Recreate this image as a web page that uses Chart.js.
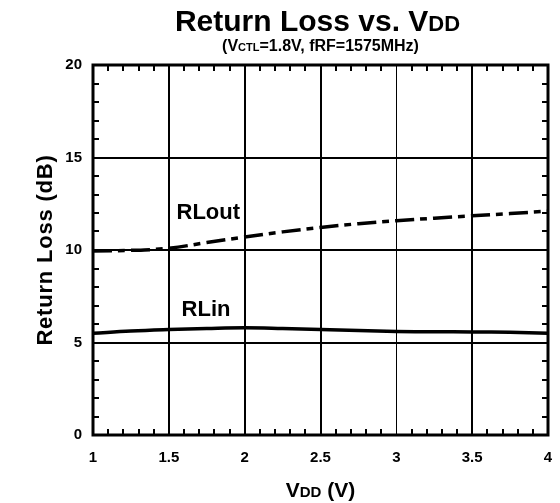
<!DOCTYPE html>
<html>
<head>
<meta charset="utf-8">
<script src="https://cdn.jsdelivr.net/npm/chart.js@4/dist/chart.umd.min.js"></script>
<style>
  html, body { margin: 0; padding: 0; background: #fff; }
  #wrap { width: 560px; height: 503px; }
</style>
</head>
<body>
<div id="wrap"><canvas id="chart" width="560" height="503"></canvas></div>
<script>
const vdd = [1, 1.25, 1.5, 1.75, 2, 2.25, 2.5, 2.75, 3, 3.25, 3.5, 3.75, 4];
const rlOut = [9.95, 9.98, 10.1, 10.4, 10.7, 10.98, 11.22, 11.42, 11.58, 11.72, 11.85, 11.97, 12.1];
const rlIn = [5.5, 5.62, 5.7, 5.76, 5.8, 5.76, 5.7, 5.65, 5.6, 5.58, 5.57, 5.55, 5.5];
const xTicks = [1, 1.5, 2, 2.5, 3, 3.5, 4];
const yTicks = [0, 5, 10, 15, 20];

const FONT = '"Liberation Sans", Arial, sans-serif';

// draw a row of text pieces with different sizes, centred on cx
function drawPieces(ctx, pieces, cx, y) {
  let total = 0;
  pieces.forEach(p => {
    ctx.font = 'bold ' + p[1] + 'px ' + FONT;
    total += ctx.measureText(p[0]).width;
  });
  let x = cx - total / 2;
  pieces.forEach(p => {
    ctx.font = 'bold ' + p[1] + 'px ' + FONT;
    ctx.fillText(p[0], x, y);
    x += ctx.measureText(p[0]).width;
  });
}

const decor = {
  id: 'decor',
  beforeDatasetsDraw(chart) {
    const { ctx, chartArea: a, scales: { x, y } } = chart;
    ctx.save();
    ctx.strokeStyle = '#000';
    ctx.lineWidth = 2;
    ctx.beginPath();
    // minor ticks, inside, on all four sides
    for (let i = 1; i < 30; i++) {
      if (i % 5 === 0) continue;
      const px = Math.round(x.getPixelForValue(1 + i * 0.1));
      ctx.moveTo(px, a.bottom); ctx.lineTo(px, a.bottom - 6);
      ctx.moveTo(px, a.top); ctx.lineTo(px, a.top + 6);
    }
    for (let i = 1; i < 20; i++) {
      if (i % 5 === 0) continue;
      const py = Math.round(y.getPixelForValue(i));
      ctx.moveTo(a.left, py); ctx.lineTo(a.left + 6, py);
      ctx.moveTo(a.right, py); ctx.lineTo(a.right - 6, py);
    }
    ctx.stroke();
    ctx.lineWidth = 3;
    ctx.strokeRect(a.left, a.top, a.right - a.left, a.bottom - a.top);
    ctx.restore();
  },
  afterDraw(chart) {
    const { ctx, chartArea: a, scales: { x, y } } = chart;
    const cx = (a.left + a.right) / 2;
    ctx.save();
    ctx.fillStyle = '#000';
    ctx.textBaseline = 'alphabetic';
    drawPieces(ctx, [['Return Loss vs. V', 30], ['DD', 22]], cx - 3, 31);
    drawPieces(ctx, [['(V', 16], ['CTL', 11], ['=1.8V, fRF=1575MHz)', 16]], cx, 51);
    drawPieces(ctx, [['V', 21], ['DD', 15], [' (V)', 21]], cx, 497);

    ctx.font = 'bold 22px ' + FONT;
    ctx.textAlign = 'center';
    ctx.fillText('RLout', x.getPixelForValue(1.76), y.getPixelForValue(11.68));
    ctx.fillText('RLin', x.getPixelForValue(1.745), y.getPixelForValue(6.43));

    ctx.translate(52, (a.top + a.bottom) / 2);
    ctx.rotate(-Math.PI / 2);
    ctx.font = 'bold 22px ' + FONT;
    ctx.letterSpacing = '0.8px';
    ctx.fillText('Return Loss (dB)', 0, 0);
    ctx.restore();
  }
};

new Chart(document.getElementById('chart'), {
  type: 'line',
  data: {
    datasets: [
      {
        label: 'RLout',
        data: vdd.map((v, i) => ({ x: v, y: rlOut[i] })),
        borderColor: '#000',
        borderWidth: 3.5,
        borderDash: [19, 6, 7, 6],
        pointRadius: 0,
        tension: 0.4
      },
      {
        label: 'RLin',
        data: vdd.map((v, i) => ({ x: v, y: rlIn[i] })),
        borderColor: '#000',
        borderWidth: 3.5,
        pointRadius: 0,
        tension: 0.4
      }
    ]
  },
  options: {
    responsive: false,
    animation: false,
    layout: { padding: { top: 65, right: 12, left: 0, bottom: 0 } },
    plugins: {
      legend: { display: false },
      title: { display: false },
      tooltip: { enabled: false }
    },
    scales: {
      x: {
        type: 'linear',
        min: 1,
        max: 4,
        afterBuildTicks: s => { s.ticks = xTicks.map(v => ({ value: v })); },
        afterFit: s => { s.height = 68; s.paddingRight = 0; },
        ticks: {
          color: '#000',
          padding: 14,
          maxRotation: 0,
          font: { family: FONT, size: 15, weight: 'bold' },
          callback: v => String(v)
        },
        grid: {
          color: '#000',
          lineWidth: c => (c.tick && c.tick.value === 3 ? 1 : 2),
          drawTicks: false
        },
        border: { display: false }
      },
      y: {
        min: 0,
        max: 20,
        afterBuildTicks: s => { s.ticks = yTicks.map(v => ({ value: v })); },
        afterFit: s => { s.width = 93; },
        ticks: {
          color: '#000',
          padding: 11,
          font: { family: FONT, size: 15, weight: 'bold' }
        },
        grid: {
          color: '#000',
          lineWidth: 2,
          drawTicks: false
        },
        border: { display: false }
      }
    }
  },
  plugins: [decor]
});
</script>
</body>
</html>
